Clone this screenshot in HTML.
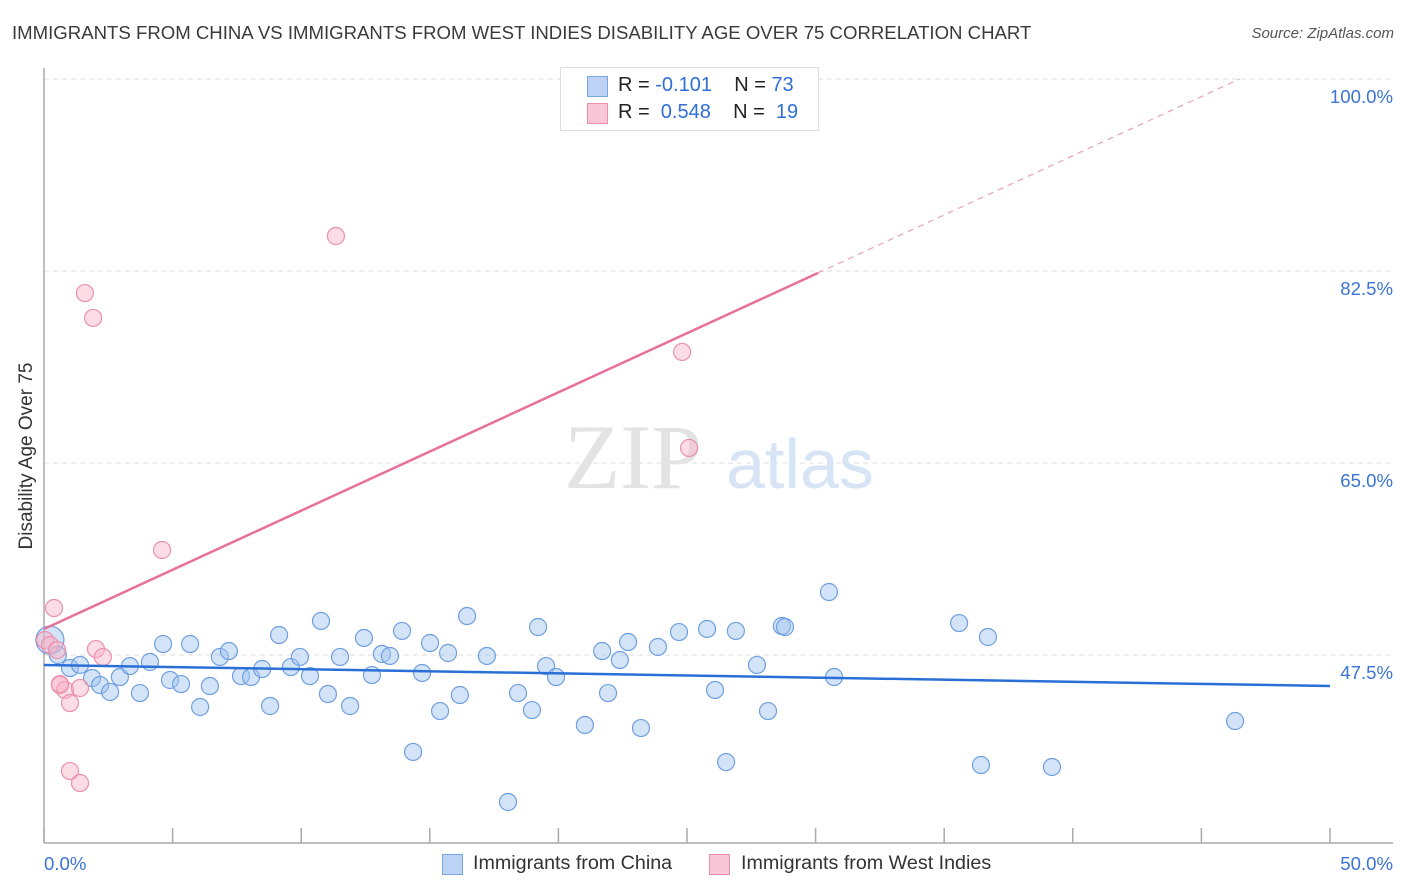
<!DOCTYPE html>
<html><head><meta charset="utf-8"><style>
body{margin:0;background:#fff;font-family:"Liberation Sans",sans-serif;}
#wrap{position:relative;width:1406px;height:892px;overflow:hidden;}
.t{position:absolute;white-space:nowrap;}
</style></head><body>
<div id="wrap">
<div class="t" style="left:12px;top:22px;font-size:18.6px;color:#3a3a3a;">IMMIGRANTS FROM CHINA VS IMMIGRANTS FROM WEST INDIES DISABILITY AGE OVER 75 CORRELATION CHART</div>
<div class="t" style="right:12px;top:25px;font-size:15px;color:#555;font-style:italic;">Source: ZipAtlas.com</div>
<div class="t" style="left:27px;top:456px;font-size:19px;color:#333;transform:translate(-50%,-50%) rotate(-90deg);">Disability Age Over 75</div>
<svg id="svg" width="1406" height="892" style="position:absolute;left:0;top:0"></svg>
</div>
<script>
const yTicks=[100,82.5,65,47.5];
const yTickLabels=["100.0%","82.5%","65.0%","47.5%"];
const xTickLabels=["0.0%","50.0%"];
const chinaX=[0.23,0.54,1.01,1.40,1.87,2.18,2.57,2.95,3.34,3.73,4.12,4.63,4.90,5.33,5.68,6.07,6.45,6.84,7.19,7.66,8.05,8.48,8.79,9.14,9.60,9.95,10.34,10.77,11.04,11.51,11.90,12.44,12.75,13.14,13.45,13.92,14.35,14.70,15.01,15.40,15.71,16.17,16.45,17.22,18.04,18.43,18.97,19.21,19.52,19.91,21.03,21.70,21.93,22.39,22.71,23.21,23.87,24.69,25.78,26.09,26.52,26.90,27.72,28.15,28.69,28.81,30.52,30.72,35.58,36.43,36.70,39.19,46.31];
const chinaY=[48.86,47.50,46.31,46.59,45.40,44.76,44.13,45.49,46.49,44.03,46.86,48.50,45.22,44.85,48.50,42.76,44.67,47.32,47.86,45.58,45.49,46.22,42.85,49.32,46.40,47.32,45.58,50.60,43.94,47.32,42.85,49.05,45.67,47.59,47.41,49.69,38.66,45.86,48.59,42.39,47.68,43.85,51.05,47.41,34.10,44.03,42.48,50.05,46.49,45.49,41.12,47.86,44.03,47.04,48.68,40.84,48.23,49.59,49.87,44.31,37.74,49.69,46.59,42.39,50.14,50.05,53.24,45.49,50.41,37.47,49.14,37.29,41.48];
const wiX=[0.04,0.23,0.39,0.51,0.62,0.82,1.01,1.01,1.40,1.40,1.59,1.91,2.02,2.29,4.59,11.35,24.81,25.08,0.62];
const wiY=[48.86,48.41,51.78,47.95,44.76,44.31,43.12,36.92,35.83,44.49,80.49,78.22,48.04,47.32,57.07,85.69,75.12,66.37,44.85];
const chinaTrend=[46.59,44.67]; // at x=0 and x=50
const wiTrend=[49.87,82.32]; // at x=0 and x=30.09 (solid end)
const wiSolidEnd=30.09;

const X=v=>44+v/50*1286;
const Y=v=>79+(100-v)*10.971;
const svg=document.getElementById('svg');
const NS='http://www.w3.org/2000/svg';
function mk(tag,attrs,parent){const e=document.createElementNS(NS,tag);for(const k in attrs)e.setAttribute(k,attrs[k]);(parent||svg).appendChild(e);return e;}

yTicks.forEach((t,i)=>{
  const g=mk('line',{x1:44,x2:1393,y1:Y(t),y2:Y(t),stroke:'#dddddd','stroke-dasharray':'5,4','stroke-width':1});
  
  
  const tx=mk('text',{x:1393,y:Y(t)+24,'text-anchor':'end','font-size':18.6,fill:'#3b74d4','font-family':'Liberation Sans, sans-serif'});
  tx.textContent=yTickLabels[i];
  
  
});
const wm=mk('text',{x:633,y:488,'text-anchor':'middle','font-size':92,fill:'#e3e3e3','font-family':'Liberation Serif, serif'});
wm.textContent='ZIP';


const wm2=mk('text',{x:800,y:488,'text-anchor':'middle','font-size':70,fill:'#d6e4f6','font-family':'Liberation Sans, sans-serif'});
wm2.textContent='atlas';


const ya=mk('line',{x1:44,x2:44,y1:68,y2:843,stroke:'#aaa','stroke-width':1.5});


const xa=mk('line',{x1:44,x2:1393,y1:843,y2:843,stroke:'#aaa','stroke-width':1.5});


for(let i=0;i<=10;i++){
  const tk=mk('line',{x1:X(i*5),x2:X(i*5),y1:828,y2:843,stroke:'#aaa','stroke-width':1.5});
  
  
}
[[0,'start',44],[1,'end',1393]].forEach(([i,a,x])=>{
  const tx=mk('text',{x:x,y:870,'text-anchor':a,'font-size':18.6,fill:'#3b74d4','font-family':'Liberation Sans, sans-serif'});
  tx.textContent=xTickLabels[i];
  
  
});
chinaX.forEach((v,i)=>{
  const c=mk('circle',{cx:X(v),cy:Y(chinaY[i]),r:i===0?14:8.5,fill:'rgba(160,195,240,0.45)',stroke:'#6f9fe0','stroke-width':1.2});
  
  
});
wiX.forEach((v,i)=>{
  const c=mk('circle',{cx:X(v),cy:Y(wiY[i]),r:8.5,fill:'rgba(248,180,200,0.45)',stroke:'#ea8fae','stroke-width':1.2});
  
  
});
const bt=mk('line',{x1:X(0),y1:Y(chinaTrend[0]),x2:X(50),y2:Y(chinaTrend[1]),stroke:'#2a6fd6','stroke-width':2.5});


const slope=(wiTrend[1]-wiTrend[0])/wiSolidEnd;
const pt=mk('line',{x1:X(0),y1:Y(wiTrend[0]),x2:X(wiSolidEnd),y2:Y(wiTrend[1]),stroke:'#e8709a','stroke-width':2.5});


const xEnd=(100-wiTrend[0])/slope;
const pd=mk('line',{x1:X(wiSolidEnd),y1:Y(wiTrend[1]),x2:X(xEnd),y2:Y(100),stroke:'#eaa0b8','stroke-width':1.2,'stroke-dasharray':'6,5'});


</script>
<div class="t" style="left:560px;top:67px;width:257px;height:62px;border:1px solid #ddd;background:#fff;"></div>
<div class="t" style="left:587px;top:76px;width:19px;height:19px;background:#bcd3f5;border:1px solid #7aa5e0;"></div>
<div class="t" style="left:618px;top:74px;font-size:20px;color:#222;">R = <span style="color:#2f6fd6">-0.101</span>&nbsp;&nbsp;&nbsp; N = <span style="color:#2f6fd6">73</span></div>
<div class="t" style="left:587px;top:103px;width:19px;height:19px;background:#f8c6d6;border:1px solid #ea8fae;"></div>
<div class="t" style="left:618px;top:101px;font-size:20px;color:#222;">R = &nbsp;<span style="color:#2f6fd6">0.548</span>&nbsp;&nbsp;&nbsp; N = &nbsp;<span style="color:#2f6fd6">19</span></div>
<div class="t" style="left:442px;top:854px;width:19px;height:19px;background:#bcd3f5;border:1px solid #7aa5e0;"></div>
<div class="t" style="left:473px;top:852px;font-size:19.7px;color:#333;">Immigrants from China</div>
<div class="t" style="left:709px;top:854px;width:19px;height:19px;background:#f8c6d6;border:1px solid #ea8fae;"></div>
<div class="t" style="left:741px;top:852px;font-size:19.7px;color:#333;">Immigrants from West Indies</div>
</body></html>
